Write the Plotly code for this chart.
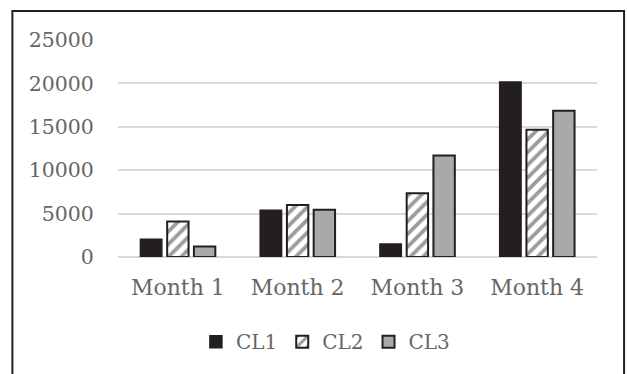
import plotly.graph_objects as go

months = ["Month 1", "Month 2", "Month 3", "Month 4"]
cl1 = [2050, 5400, 1500, 20150]
cl2 = [4080, 6000, 7350, 14650]
cl3 = [1200, 5450, 11700, 16850]
y_ticks = [0, 5000, 10000, 15000, 20000, 25000]

ink = "#231f20"
label_grey = "#666666"
grid_grey = "#d9d9d9"
font_family = "DejaVu Serif"

fig = go.Figure()
fig.add_trace(go.Bar(
    name="CL1", x=months, y=cl1,
    marker=dict(color=ink, line=dict(color=ink, width=1.5)),
))
fig.add_trace(go.Bar(
    name="CL2", x=months, y=cl2,
    marker=dict(
        color="white",
        line=dict(color=ink, width=2),
        pattern=dict(shape="/", fgcolor="#9c9c9c", bgcolor="white",
                     size=9, solidity=0.42, fillmode="replace"),
    ),
))
fig.add_trace(go.Bar(
    name="CL3", x=months, y=cl3,
    marker=dict(color="#a8a9ab", line=dict(color=ink, width=2)),
))

# Frame around the whole chart area (runs off the bottom edge)
fig.add_shape(type="rect", xref="paper", yref="paper",
              x0=-0.2205, x1=1.0565, y0=-0.60, y1=1.134,
              line=dict(color=ink, width=2), fillcolor="rgba(0,0,0,0)",
              layer="below")

fig.update_layout(
    width=627, height=374,
    margin=dict(l=118, r=29.5, t=40, b=117),
    paper_bgcolor="white", plot_bgcolor="white",
    barmode="group", bargap=0.33, bargroupgap=0.2,
    font=dict(family=font_family, color=label_grey),
    showlegend=True,
    legend=dict(
        orientation="h", x=0.433, xanchor="center", y=-0.39, yanchor="middle",
        font=dict(family=font_family, size=20, color=label_grey),
        itemclick=False, itemdoubleclick=False, traceorder="normal",
        bgcolor="rgba(0,0,0,0)",
    ),
    xaxis=dict(
        showgrid=False, showline=False, zeroline=False,
        ticks="outside", ticklen=11, tickcolor="rgba(0,0,0,0)",
        tickfont=dict(family=font_family, size=22, color=label_grey),
    ),
    yaxis=dict(
        range=[0, 25000], tickvals=y_ticks, tickformat="d",
        showgrid=True, gridcolor=grid_grey, gridwidth=1.5,
        zeroline=True, zerolinecolor=grid_grey, zerolinewidth=1.5,
        showline=False,
        ticks="outside", ticklen=19, tickcolor="rgba(0,0,0,0)",
        tickfont=dict(family=font_family, size=20.5, color=label_grey),
    ),
)

fig.write_html("out.html")
